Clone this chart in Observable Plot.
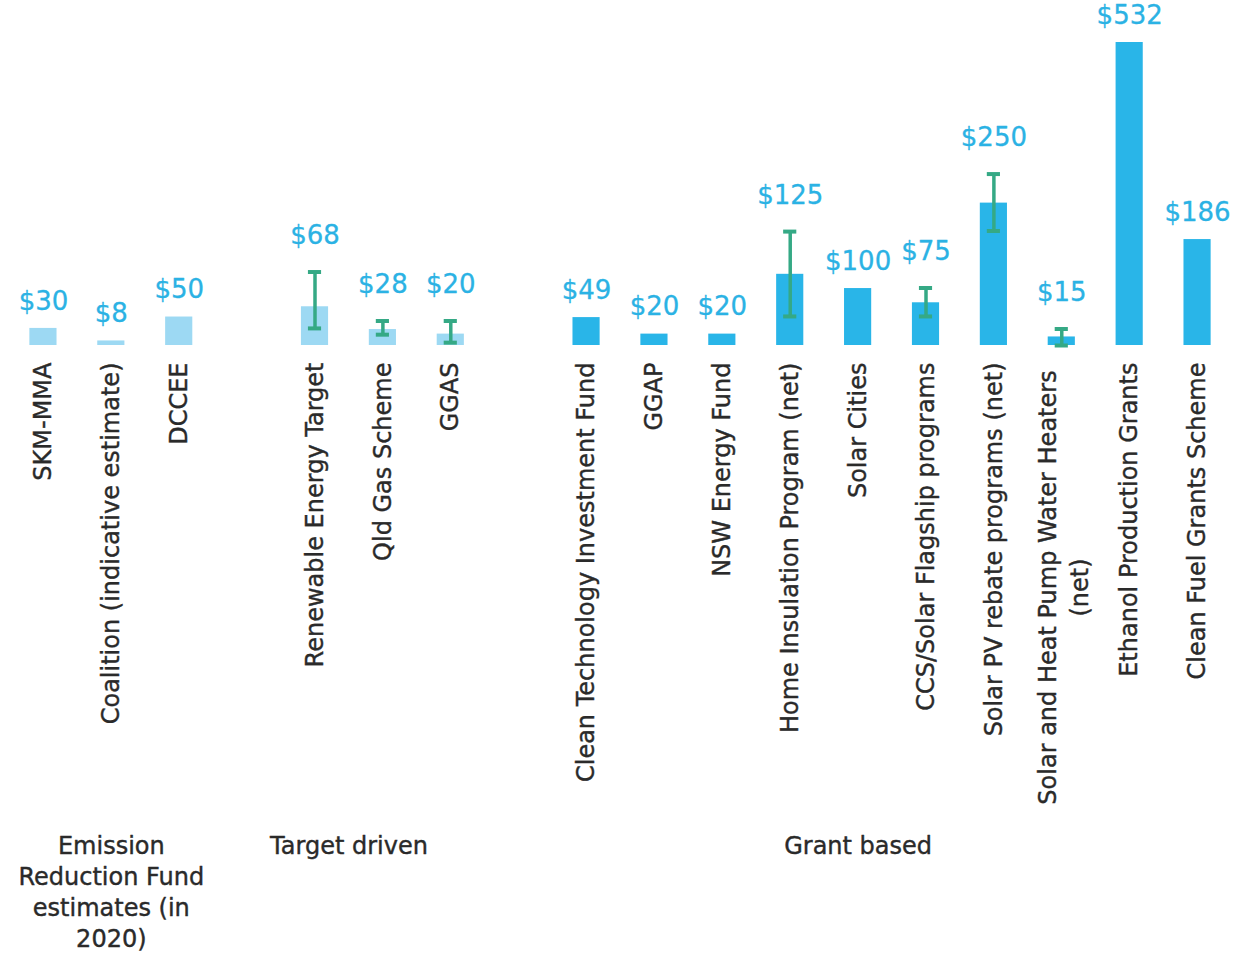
<!DOCTYPE html>
<html>
<head>
<meta charset="utf-8">
<script src="https://cdn.jsdelivr.net/npm/d3@7"></script>
<script src="https://cdn.jsdelivr.net/npm/@observablehq/plot@0.6"></script>
<style>
  html, body { margin: 0; padding: 0; background: #ffffff; }
  #chart svg { display: block; }
</style>
</head>
<body>
<div id="chart"></div>
<script>
// ---- Data ----
const categories = [
  "SKM-MMA", "Coalition (indicative estimate)", "DCCEE",
  "Renewable Energy Target", "Qld Gas Scheme", "GGAS",
  "Clean Technology Investment Fund", "GGAP", "NSW Energy Fund",
  "Home Insulation Program (net)", "Solar Cities", "CCS/Solar Flagship programs",
  "Solar PV rebate programs (net)", "Solar and Heat Pump Water Heaters\n(net)",
  "Ethanol Production Grants", "Clean Fuel Grants Scheme"
];
const groupNames = ["Emission Reduction Fund estimates (in 2020)", "Target driven", "Grant based"];
const groupOf = [0, 0, 0, 1, 1, 1, 2, 2, 2, 2, 2, 2, 2, 2, 2, 2];
const values = [30, 8, 50, 68, 28, 20, 49, 20, 20, 125, 100, 75, 250, 15, 532, 186];
const errLow  = [null, null, null, 30, 19, 5, null, null, null, 51, null, 51, 201, 0, null, null];
const errHigh = [null, null, null, 129, 43, 43, null, null, null, 200, null, 101, 301, 29, null, null];

// group labels (text as shown, wrapped) and the category they sit under
const groupLabelText = ["Emission\nReduction Fund\nestimates (in\n2020)", "Target driven", "Grant based"];
const groupLabelAnchor = ["Coalition (indicative estimate)", "Renewable Energy Target", "Solar Cities"];

// ---- Build table ----
const data = categories.map((c, i) => ({
  cat: c,
  group: groupNames[groupOf[i]],
  value: values[i],
  lo: errLow[i],
  hi: errHigh[i]
}));
const errRows = data.filter(d => d.lo != null);
const plainRows = data.filter(d => d.lo == null);

// x domain with an empty slot between groups
const domain = [];
groupNames.forEach((g, gi) => {
  if (gi > 0) domain.push("__gap" + gi);
  data.filter(d => d.group === g).forEach(d => domain.push(d.cat));
});

const LIGHT = "#9dd9f3";
const DARK = "#29b5e8";
const GREEN = "#35a985";
const VALUE_COLOR = "#2bb2e4";
const TEXT = "#2a2a2a";
const FONT = "DejaVu Sans, sans-serif";

const multiLine = d => d.cat.includes("\n");

const groupMarks = groupLabelText.map((t, i) =>
  Plot.text([{label: t, x: groupLabelAnchor[i]}], {
    x: "x", y: () => 0, text: "label",
    dx: i === 1 ? 34 : 0, dy: 487,
    lineAnchor: "top", lineHeight: 1.29, textAnchor: "middle",
    fontSize: 24, fill: TEXT, stroke: TEXT, strokeWidth: 0.4, fontFamily: FONT
  })
);

const valueLabel = (rows, dy) => Plot.text(rows, {
  x: "cat", y: d => Math.max(d.value, d.hi ?? 0),
  text: d => "$" + d.value, dy,
  fontSize: 26, fill: VALUE_COLOR, stroke: VALUE_COLOR, strokeWidth: 0.3,
  fontFamily: FONT, lineAnchor: "middle"
});

const chart = Plot.plot({
  width: 1239,
  height: 955,
  marginTop: 42,
  marginBottom: 610,
  marginLeft: 9,
  marginRight: 8,
  style: {fontFamily: FONT, background: "#ffffff"},
  x: {domain, paddingInner: 0.6, paddingOuter: 0.3, round: false, axis: null},
  y: {domain: [0, 532], axis: null},
  color: {domain: groupNames, range: [LIGHT, LIGHT, DARK]},
  marks: [
    Plot.barY(data, {x: "cat", y: "value", fill: "group"}),
    Plot.ruleX(errRows, {x: "cat", y1: "lo", y2: "hi", stroke: GREEN, strokeWidth: 3.5}),
    Plot.tickY(errRows, {x: "cat", y: "lo", stroke: GREEN, strokeWidth: 4, insetLeft: 7, insetRight: 7}),
    Plot.tickY(errRows, {x: "cat", y: "hi", stroke: GREEN, strokeWidth: 4, insetLeft: 7, insetRight: 7}),
    valueLabel(plainRows, -27),
    valueLabel(errRows, -36),
    Plot.text(data.filter(d => !multiLine(d)), {
      x: "cat", y: () => 0, text: "cat", rotate: -90,
      textAnchor: "end", lineAnchor: "middle", dy: 17,
      fontSize: 24, fill: TEXT, stroke: TEXT, strokeWidth: 0.4, fontFamily: FONT
    }),
    Plot.text(data.filter(multiLine), {
      x: "cat", y: () => 0, text: "cat", rotate: -90,
      textAnchor: "middle", lineAnchor: "middle", lineHeight: 1.35, dy: 242,
      fontSize: 24, fill: TEXT, stroke: TEXT, strokeWidth: 0.4, fontFamily: FONT
    }),
    ...groupMarks
  ]
});

document.getElementById("chart").appendChild(chart);
</script>
</body>
</html>
